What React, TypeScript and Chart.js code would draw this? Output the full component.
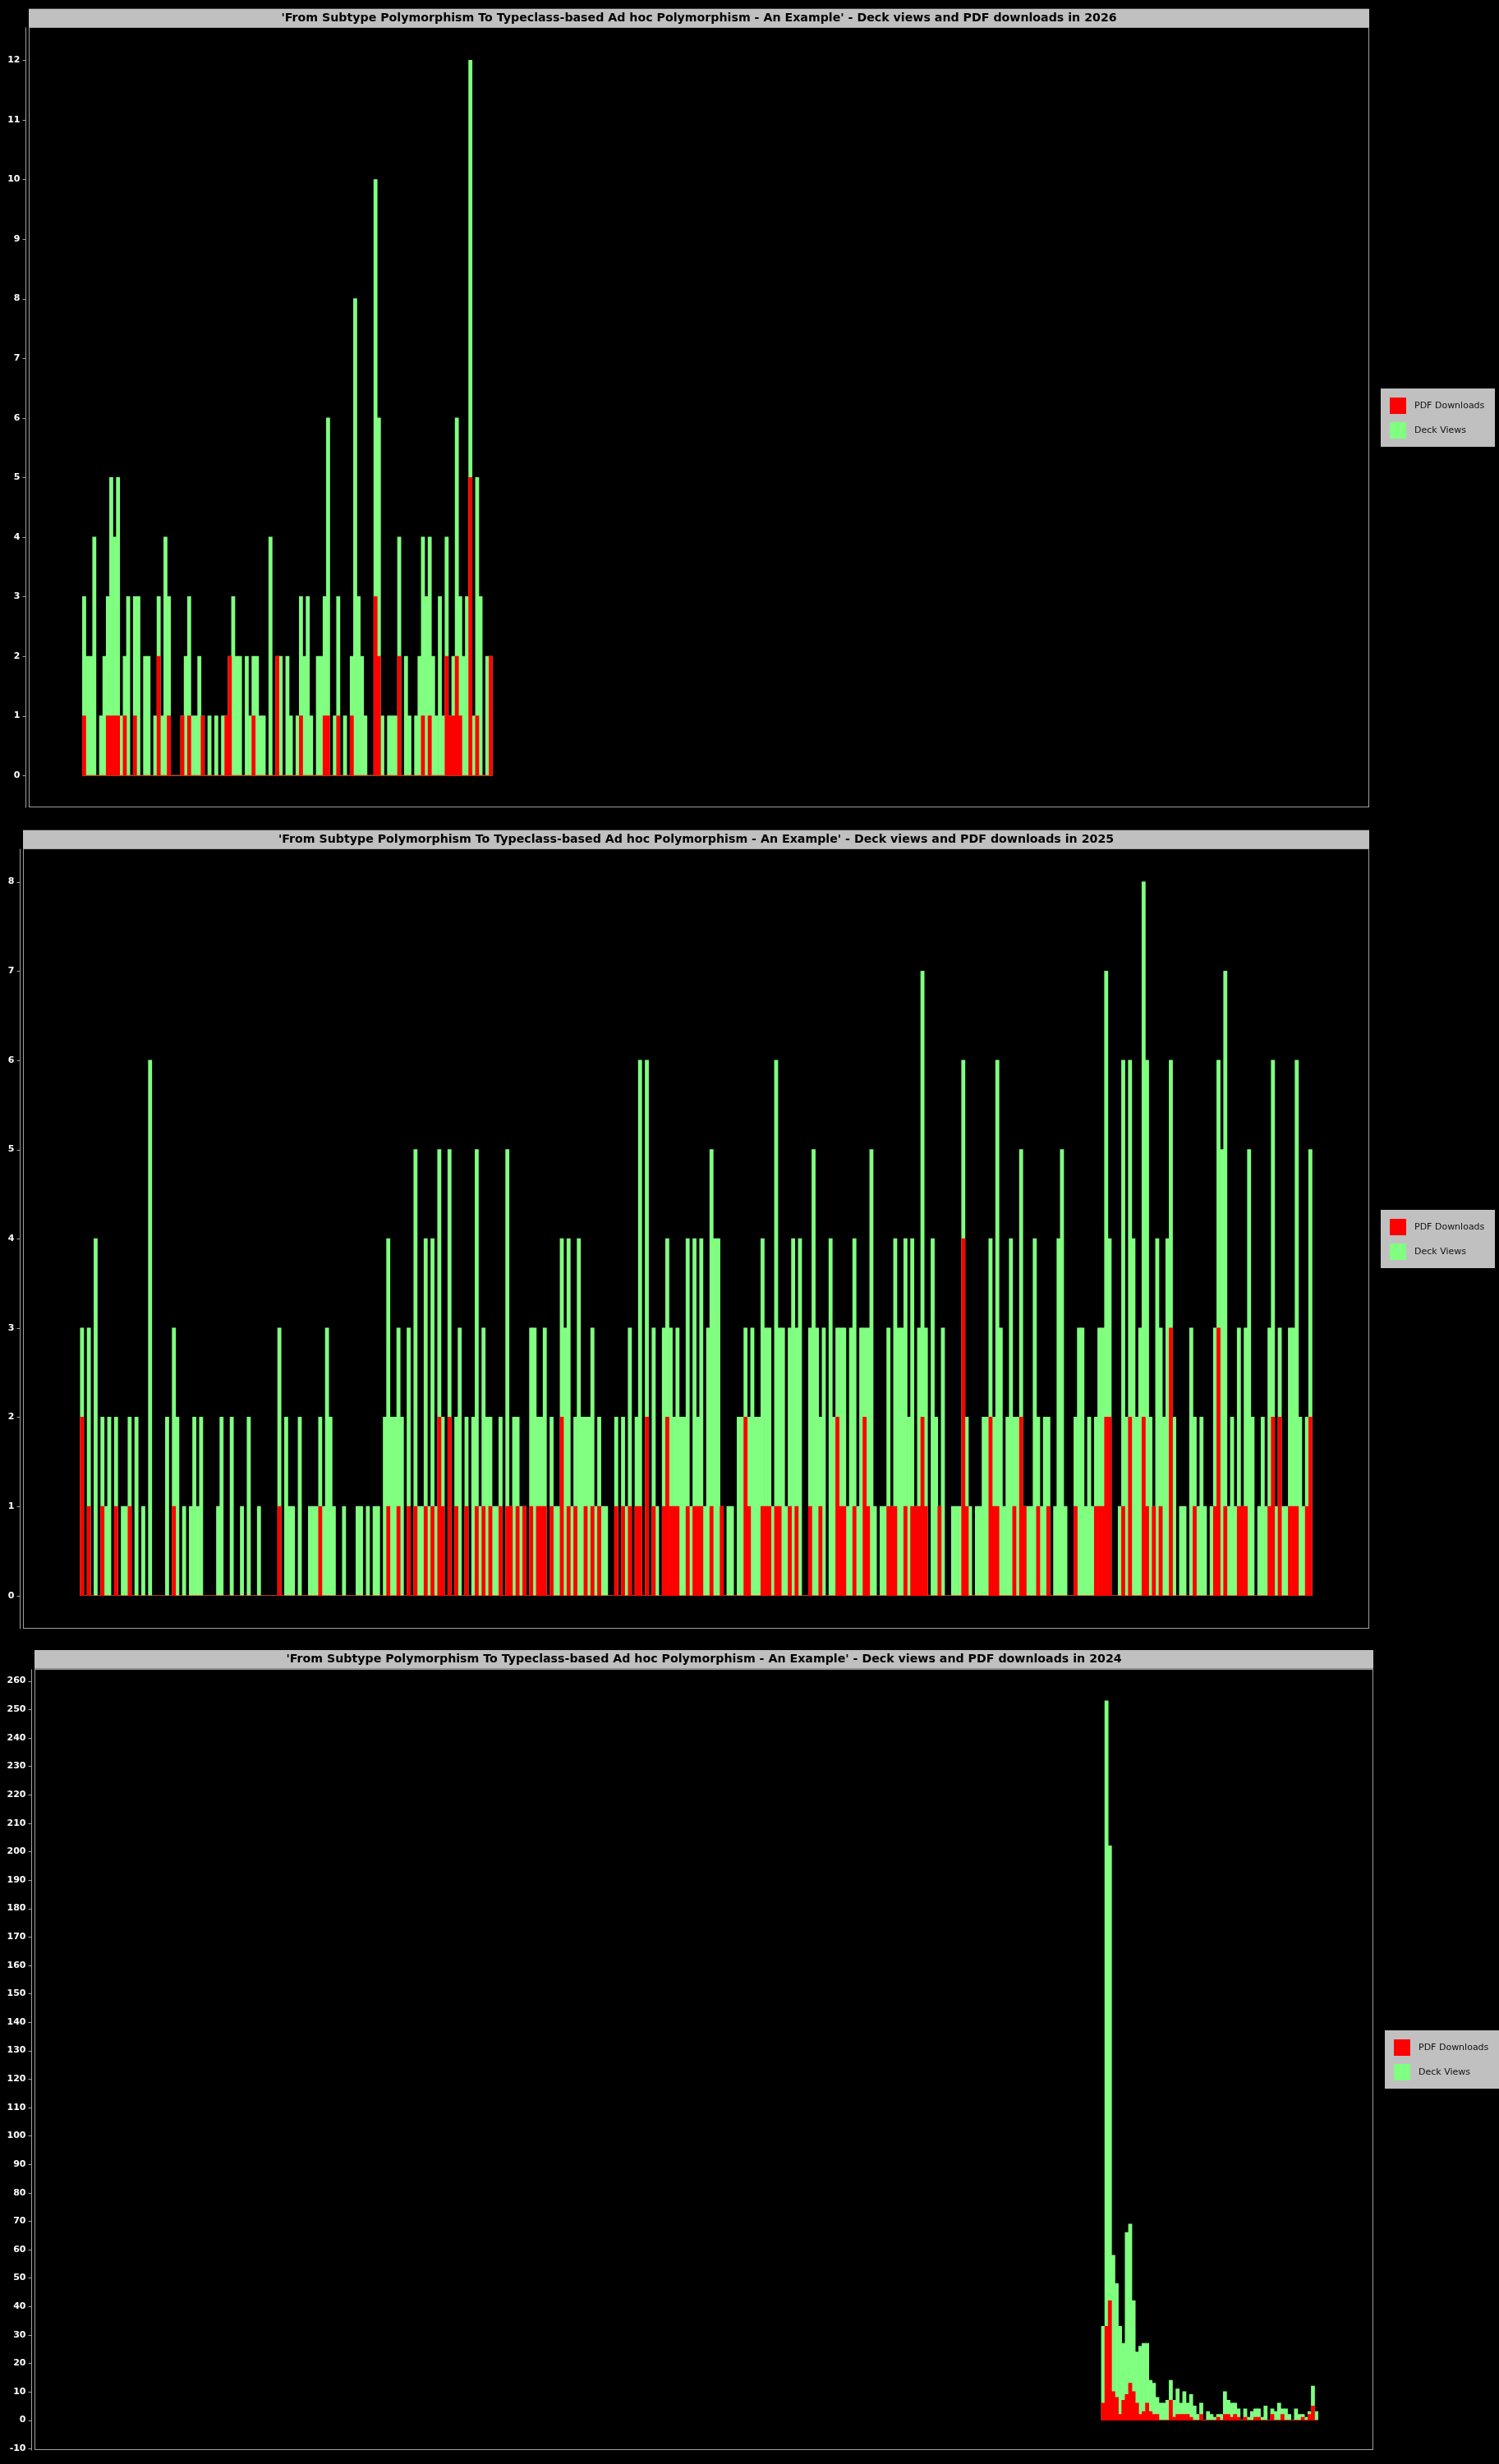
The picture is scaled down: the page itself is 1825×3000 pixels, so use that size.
import React, { useEffect, useRef } from 'react';
import { Chart, registerables } from 'chart.js';

Chart.register(...registerables);

document.body.style.margin = '0';
document.body.style.background = '#000';

const FONT = "'DejaVu Sans', sans-serif";
const TITLE_PREFIX =
  "'From Subtype Polymorphism To Typeclass-based Ad hoc Polymorphism - An Example' - Deck views and PDF downloads in ";

// day-of-year of the first bar in each year
const firstDay2026 = 0;
const firstDay2025 = 1;
const firstDay2024 = 299;

// 2026
const views2026 = [
  3, 2, 2, 4, 0, 1, 2, 3, 5, 4,
  5, 1, 2, 3, 0, 3, 3, 0, 2, 2,
  0, 1, 3, 1, 4, 3, 0, 0, 0, 1,
  2, 3, 1, 1, 2, 1, 0, 1, 0, 1,
  0, 1, 1, 2, 3, 2, 2, 0, 2, 1,
  2, 2, 1, 1, 0, 4, 0, 2, 2, 0,
  2, 1, 0, 1, 3, 2, 3, 1, 0, 2,
  2, 3, 6, 0, 1, 3, 0, 1, 0, 2,
  8, 3, 2, 1, 0, 0, 10, 6, 1, 0,
  1, 1, 1, 4, 0, 2, 1, 0, 1, 2,
  4, 3, 4, 2, 1, 3, 1, 4, 1, 2,
  6, 3, 2, 3, 12, 1, 5, 3, 0, 2,
  2,
];
const downloads2026 = [
  1, 0, 0, 0, 0, 0, 0, 1, 1, 1,
  1, 0, 1, 0, 0, 1, 0, 0, 0, 0,
  0, 0, 2, 0, 0, 1, 0, 0, 0, 1,
  0, 1, 0, 0, 0, 1, 0, 0, 0, 0,
  0, 0, 1, 2, 0, 0, 0, 0, 0, 0,
  1, 0, 0, 0, 0, 0, 0, 2, 0, 0,
  0, 0, 0, 0, 1, 0, 0, 0, 0, 0,
  0, 1, 1, 0, 0, 1, 0, 0, 0, 1,
  0, 0, 0, 0, 0, 0, 3, 2, 0, 0,
  0, 0, 0, 2, 0, 0, 0, 0, 0, 0,
  1, 0, 1, 0, 0, 0, 0, 2, 1, 1,
  2, 1, 0, 0, 5, 0, 1, 0, 0, 0,
  2,
];
const yTicks2026 = [0, 1, 2, 3, 4, 5, 6, 7, 8, 9, 10, 11, 12];

// 2025
const views2025 = [
  3, 0, 3, 0, 4, 0, 2, 1, 2, 0,
  2, 0, 1, 1, 2, 0, 2, 0, 1, 0,
  6, 0, 0, 0, 0, 2, 0, 3, 2, 0,
  1, 0, 1, 2, 1, 2, 0, 0, 0, 0,
  1, 2, 0, 0, 2, 0, 0, 1, 0, 2,
  0, 0, 1, 0, 0, 0, 0, 0, 3, 0,
  2, 1, 1, 0, 2, 0, 0, 1, 1, 1,
  2, 1, 3, 2, 1, 0, 0, 1, 0, 0,
  0, 1, 1, 0, 1, 0, 1, 1, 0, 2,
  4, 2, 2, 3, 2, 0, 3, 0, 5, 1,
  1, 4, 1, 4, 1, 5, 2, 0, 5, 0,
  2, 3, 0, 2, 0, 2, 5, 1, 3, 2,
  2, 1, 1, 2, 0, 5, 1, 2, 2, 1,
  1, 0, 3, 3, 2, 2, 3, 0, 2, 1,
  1, 4, 3, 4, 1, 2, 4, 2, 2, 2,
  3, 1, 2, 1, 1, 0, 0, 2, 0, 2,
  1, 3, 0, 2, 6, 0, 6, 0, 3, 1,
  0, 3, 4, 3, 2, 3, 2, 2, 4, 1,
  4, 2, 4, 1, 3, 5, 4, 4, 1, 0,
  1, 1, 0, 2, 2, 3, 2, 3, 2, 2,
  4, 3, 3, 1, 6, 3, 3, 1, 3, 4,
  3, 4, 0, 0, 3, 5, 3, 2, 3, 0,
  4, 2, 3, 3, 3, 1, 3, 4, 1, 3,
  3, 3, 5, 1, 0, 1, 1, 3, 1, 4,
  3, 3, 4, 2, 4, 1, 3, 7, 3, 0,
  4, 2, 1, 3, 0, 0, 1, 1, 1, 6,
  2, 1, 0, 1, 1, 2, 2, 4, 2, 6,
  3, 1, 2, 4, 2, 2, 5, 1, 1, 1,
  4, 2, 1, 2, 2, 0, 1, 4, 5, 1,
  0, 0, 2, 3, 3, 1, 2, 1, 2, 3,
  3, 7, 4, 0, 0, 1, 6, 2, 6, 4,
  2, 3, 8, 6, 2, 1, 4, 3, 2, 4,
  6, 2, 0, 1, 1, 0, 3, 2, 1, 2,
  1, 0, 1, 3, 6, 5, 7, 1, 2, 1,
  3, 1, 3, 5, 2, 0, 1, 2, 1, 3,
  6, 1, 3, 1, 1, 3, 3, 6, 2, 1,
  2, 5,
];
const downloads2025 = [
  2, 0, 1, 0, 0, 0, 1, 0, 0, 0,
  1, 0, 0, 0, 1, 0, 0, 0, 0, 0,
  0, 0, 0, 0, 0, 0, 0, 1, 0, 0,
  0, 0, 0, 0, 0, 0, 0, 0, 0, 0,
  0, 0, 0, 0, 0, 0, 0, 0, 0, 0,
  0, 0, 0, 0, 0, 0, 0, 0, 1, 0,
  0, 0, 0, 0, 0, 0, 0, 0, 0, 0,
  1, 0, 0, 0, 0, 0, 0, 0, 0, 0,
  0, 0, 0, 0, 0, 0, 0, 0, 0, 0,
  1, 0, 0, 1, 0, 0, 1, 0, 1, 0,
  0, 1, 0, 1, 0, 2, 1, 0, 2, 0,
  1, 0, 0, 1, 0, 0, 1, 0, 1, 0,
  1, 0, 0, 1, 0, 1, 1, 0, 1, 0,
  1, 0, 1, 0, 1, 1, 1, 0, 1, 0,
  0, 2, 0, 1, 0, 1, 0, 0, 1, 0,
  1, 0, 1, 0, 0, 0, 0, 1, 0, 1,
  0, 1, 0, 1, 1, 0, 2, 0, 1, 0,
  0, 1, 2, 1, 1, 1, 0, 0, 1, 0,
  1, 1, 1, 0, 0, 1, 0, 0, 1, 0,
  0, 0, 0, 0, 0, 2, 1, 0, 0, 0,
  1, 1, 1, 0, 1, 1, 0, 0, 1, 0,
  1, 0, 0, 0, 1, 0, 0, 1, 0, 0,
  0, 0, 2, 1, 1, 0, 0, 1, 0, 0,
  2, 1, 0, 0, 0, 0, 0, 1, 1, 1,
  0, 0, 1, 0, 1, 1, 1, 2, 1, 0,
  0, 0, 1, 0, 0, 0, 0, 0, 0, 4,
  1, 0, 0, 0, 0, 0, 0, 2, 1, 1,
  0, 0, 0, 0, 1, 0, 2, 1, 0, 0,
  0, 1, 0, 0, 1, 0, 0, 0, 0, 0,
  0, 0, 1, 0, 0, 0, 0, 0, 1, 1,
  1, 2, 2, 0, 0, 0, 1, 0, 2, 0,
  0, 0, 2, 1, 0, 1, 0, 1, 0, 0,
  3, 0, 0, 0, 0, 0, 0, 1, 0, 0,
  0, 0, 0, 1, 3, 0, 1, 0, 0, 0,
  1, 1, 1, 0, 0, 0, 0, 0, 0, 1,
  2, 0, 2, 0, 0, 1, 1, 1, 0, 0,
  1, 2,
];
const yTicks2025 = [0, 1, 2, 3, 4, 5, 6, 7, 8];

// 2024
const views2024 = [
  33, 253, 202, 58, 48, 33, 27, 66, 69, 42,
  24, 26, 27, 27, 14, 13, 8, 6, 6, 7,
  14, 7, 11, 6, 10, 6, 9, 5, 2, 6,
  0, 3, 2, 1, 2, 2, 10, 7, 6, 6,
  4, 0, 4, 1, 3, 4, 4, 1, 5, 0,
  4, 3, 6, 4, 4, 2, 0, 4, 2, 2,
  1, 3, 12, 3,
];
const downloads2024 = [
  6, 33, 42, 10, 8, 2, 7, 9, 13, 10,
  6, 2, 3, 6, 3, 2, 2, 0, 0, 0,
  7, 1, 2, 2, 2, 2, 1, 0, 0, 2,
  0, 0, 0, 0, 1, 0, 2, 2, 1, 2,
  1, 0, 1, 0, 0, 1, 1, 0, 0, 0,
  2, 0, 0, 2, 0, 0, 0, 0, 0, 1,
  0, 2, 5, 0,
];
const yTicks2024 = [
  -10, 0, 10, 20, 30, 40, 50, 60, 70, 80, 90, 100, 110, 120, 130,
  140, 150, 160, 170, 180, 190, 200, 210, 220, 230, 240, 250, 260,
];

const framePlugin = {
  id: 'frame',
  beforeDraw(chart: any) {
    const { ctx, chartArea: a, titleBlock: t } = chart;
    ctx.save();
    ctx.fillStyle = '#000';
    ctx.fillRect(0, 0, chart.width, chart.height);
    ctx.fillStyle = '#c0c0c0';
    ctx.fillRect(a.left, t.top, a.right - a.left, t.bottom - t.top);
    ctx.restore();
  },
  afterDraw(chart: any) {
    const { ctx, chartArea: a } = chart;
    const yScale = chart.scales.y;
    ctx.save();
    ctx.strokeStyle = '#a0a0a0';
    ctx.lineWidth = 1;
    const l = Math.round(a.left) + 0.5;
    const r = Math.round(a.right) - 0.5;
    const top = Math.round(a.top) + 0.5;
    const b = Math.round(a.bottom) - 0.5;
    ctx.strokeRect(l, top, r - l, b - top);
    // axis line sits a little left of the plot outline
    const ax = l - 4;
    ctx.beginPath();
    ctx.moveTo(ax, top);
    ctx.lineTo(ax, b + 1);
    yScale.ticks.forEach((tk: any) => {
      const py = Math.round(yScale.getPixelForValue(tk.value)) + 0.5;
      ctx.moveTo(ax - 4, py);
      ctx.lineTo(ax, py);
    });
    ctx.stroke();

    // legend box
    const bx = Math.round(a.right) + 14;
    const by = Math.round((a.top + a.bottom) / 2 - 35.5);
    ctx.fillStyle = '#c0c0c0';
    ctx.fillRect(bx, by, 139, 71);
    ctx.font = `11px ${FONT}`;
    ctx.textBaseline = 'middle';
    ctx.textAlign = 'left';
    chart.data.datasets.forEach((ds: any, k: number) => {
      const sy = by + 11 + k * 30;
      ctx.fillStyle = ds.backgroundColor;
      ctx.fillRect(bx + 11, sy, 20, 20);
      ctx.fillStyle = '#111';
      ctx.fillText(ds.label, bx + 41, sy + 10.5);
    });
    ctx.restore();
  },
};

type YearChartProps = {
  year: string;
  firstDay: number;
  views: number[];
  downloads: number[];
  yTicks: number[];
  yMin: number;
  yMax: number;
  xMin: number;
  xMax: number;
  plotLeft: number;
  plotRight: number;
  top: number;
  bottom: number;
};

const YearChart: React.FC<YearChartProps> = (props) => {
  const canvasRef = useRef<HTMLCanvasElement | null>(null);

  useEffect(() => {
    let chart: any = null;
    if (canvasRef.current) {
      const days = props.views.map((_, i) => props.firstDay + i);
      chart = new Chart(canvasRef.current, {
        type: 'bar',
        data: {
          datasets: [
            {
              label: 'PDF Downloads',
              data: days.map((d, i) => ({ x: d, y: props.downloads[i] })),
              backgroundColor: '#ff0000',
              borderWidth: 0,
              grouped: false,
              barPercentage: 1,
              categoryPercentage: 1,
            },
            {
              label: 'Deck Views',
              data: days.map((d, i) => ({ x: d, y: props.views[i] })),
              backgroundColor: '#80ff80',
              borderWidth: 0,
              grouped: false,
              barPercentage: 1,
              categoryPercentage: 1,
            },
          ],
        },
        options: {
          responsive: false,
          maintainAspectRatio: false,
          animation: false,
          layout: {
            padding: {
              top: props.top,
              bottom: 1000 - props.bottom,
              left: 0,
              right: 1825 - props.plotRight,
            },
          },
          plugins: {
            legend: { display: false },
            tooltip: { enabled: false },
            title: {
              display: true,
              fullSize: false,
              text: TITLE_PREFIX + props.year,
              color: '#000',
              font: { family: FONT, size: 14.2, weight: 'bold', lineHeight: 1.2 },
              padding: { top: 3, bottom: 2.7 },
            },
          },
          scales: {
            x: {
              type: 'linear',
              min: props.xMin,
              max: props.xMax,
              display: false,
              offset: false,
            },
            y: {
              type: 'linear',
              position: 'left',
              min: props.yMin,
              max: props.yMax,
              grid: { display: false, drawTicks: false },
              border: { display: false },
              ticks: {
                color: '#fff',
                autoSkip: false,
                padding: 10.5,
                font: { family: FONT, size: 11, weight: 'bold' },
              },
              afterFit: (s: any) => {
                s.width = props.plotLeft;
              },
              afterBuildTicks: (s: any) => {
                s.ticks = props.yTicks.map((v) => ({ value: v }));
              },
            },
          },
        },
        plugins: [framePlugin],
      } as any);
    }
    return () => {
      if (chart) {
        chart.destroy();
      }
    };
  }, []);

  return (
    <div style={{ width: 1825, height: 1000 }}>
      <canvas ref={canvasRef} width={1825} height={1000} style={{ display: 'block' }} />
    </div>
  );
};

const App: React.FC = () => {
  return (
    <div style={{ width: 1825, height: 3000, background: '#000' }}>
      <YearChart
        year="2026"
        firstDay={firstDay2026}
        views={views2026}
        downloads={downloads2026}
        yTicks={yTicks2026}
        yMin={-0.535}
        yMax={12.55}
        xMin={-16.35}
        xMax={379.3}
        plotLeft={35}
        plotRight={1667}
        top={10.7}
        bottom={986.5}
      />
      <YearChart
        year="2025"
        firstDay={firstDay2025}
        views={views2025}
        downloads={downloads2025}
        yTicks={yTicks2025}
        yMin={-0.37}
        yMax={8.37}
        xMin={-16.35}
        xMax={379.3}
        plotLeft={28}
        plotRight={1667}
        top={10.7}
        bottom={986}
      />
      <YearChart
        year="2024"
        firstDay={firstDay2024}
        views={views2024}
        downloads={downloads2024}
        yTicks={yTicks2024}
        yMin={-10.5}
        yMax={264.3}
        xMin={-16.8}
        xMax={378.85}
        plotLeft={42}
        plotRight={1672}
        top={9}
        bottom={984.5}
      />
    </div>
  );
};

export default App;
